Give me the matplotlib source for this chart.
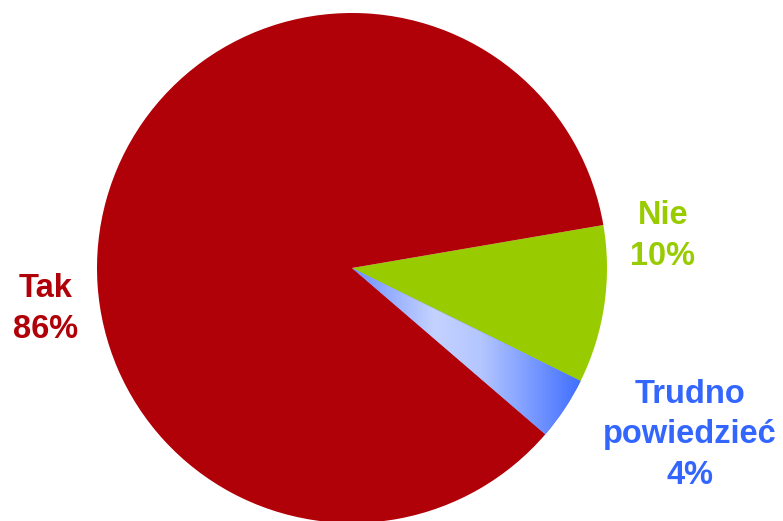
import numpy as np
import matplotlib
matplotlib.use("Agg")
import matplotlib.pyplot as plt
from matplotlib.colors import LinearSegmentedColormap

# data
labels = ["Nie", "Trudno\npowiedzieć", "Tak"]
values = [10, 4, 86]
colors = ["#99CC00", "#4A78FF", "#B00008"]
text_colors = ["#99CC00", "#3366FF", "#B00008"]

W, H = 783, 521
CX, CY, R = 352, H - 268, 255

fig = plt.figure(figsize=(W / 100, H / 100), dpi=100)
ax = fig.add_axes([0, 0, 1, 1])

wedges, _ = ax.pie(values, colors=colors, startangle=9.7, counterclock=False,
                   center=(CX, CY), radius=R, frame=True,
                   wedgeprops=dict(linewidth=0))
ax.set_xlim(0, W)
ax.set_ylim(0, H)
ax.set_aspect("equal")
ax.axis("off")

# gradient fill for the "Trudno powiedziec" wedge
grad_cmap = LinearSegmentedColormap.from_list(
    "blu", [(0.0, "#6F90FF"), (0.35, "#C4D2FF"), (0.55, "#B4C6FF"), (1.0, "#3A6AFF")])
g = np.linspace(0, 1, 256).reshape(1, -1)
im = ax.imshow(g, cmap=grad_cmap, extent=(CX, CX + 235, CY - 175, CY), aspect="auto", zorder=3)
im.set_clip_path(wedges[1])
ax.set_xlim(0, W)
ax.set_ylim(0, H)

# labels
lab_pos = [(663, 236), (690, 435), (46, 309)]
for lab, v, c, (x, y) in zip(labels, values, text_colors, lab_pos):
    ax.text(x, H - y, f"{lab}\n{v}%", ha="center", va="center", color=c,
            fontsize=23.5, fontweight="bold", family="Liberation Sans",
            linespacing=1.38, zorder=5)

fig.savefig("out.png", dpi=100)
